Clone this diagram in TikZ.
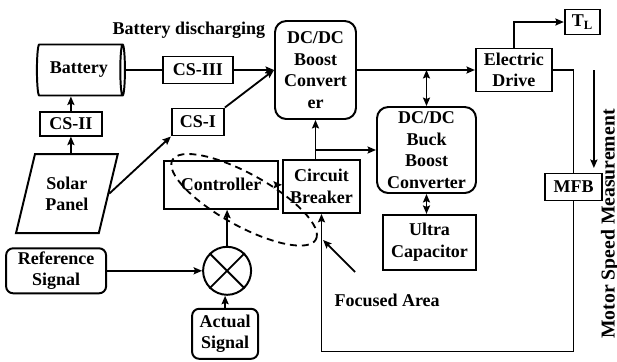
\documentclass[tikz,border=0pt]{standalone}
\usepackage{fontspec}
\setmainfont{Liberation Serif}
\usepackage{tikz}
\usetikzlibrary{arrows.meta, positioning, shapes.geometric, calc}

\begin{document}
\begin{tikzpicture}[
    node_box/.style={rectangle, draw, line width=1.4pt, align=center, inner sep=1pt, font=\fontsize{12.8}{15.3}\selectfont\bfseries},
    node_conv/.style={node_box, rounded corners=8pt},
    node_sig/.style={node_box, rounded corners=5pt},
    node_txt/.style={draw=none, align=center, inner sep=0pt, font=\fontsize{12.8}{15.3}\selectfont\bfseries},
    edge_path/.style={-{Stealth[length=6pt, width=5pt, inset=1pt]}, line width=1.3pt},
    edge_both/.style={{Stealth[length=6pt, width=5pt, inset=1pt]}-{Stealth[length=6pt, width=5pt, inset=1pt]}, line width=1.3pt},
    edge_line/.style={line width=1.3pt},
    on grid, node distance=2.0cm and 2.0cm
  ]
    \useasboundingbox (-7.8875,1.75) rectangle (7.5375,-7.275);

    \node[node_conv, minimum width=2.025cm, minimum height=2.45cm] (Boost) {DC/DC\\Boost\\Convert\\er};
    \node[node_box, minimum width=1.75cm, minimum height=0.675cm, left=2.94cm of Boost] (CS3) {CS-III};
    \node[node_box, cylinder, shape aspect=0.25, minimum height=2.2cm, minimum width=1.275cm, left=2.975cm of CS3] (Bat) {Battery};
    \node[node_box, minimum width=1.55cm, minimum height=0.6cm, below=1.34cm of Bat, xshift=-0.2cm] (CS2) {CS-II};
    \node[node_box, trapezium, trapezium left angle=76.5, trapezium right angle=103.5,
          inner xsep=7.4pt, inner ysep=16pt, below=1.75cm of CS2, xshift=-0.1cm] (Solar) {Solar\\Panel};
    \node[node_box, minimum width=1.3cm, minimum height=0.675cm, below=1.3cm of CS3] (CS1) {CS-I};

    \node[node_box, minimum width=1.925cm, minimum height=1.325cm, below=2.91cm of Boost, xshift=0.15cm] (CB) {Circuit\\Breaker};
    \node[node_box, minimum width=2.85cm, minimum height=1.2cm, left=2.51cm of CB, yshift=0.04cm] (Ctrl) {Controller};
    \node[node_conv, minimum width=2.475cm, minimum height=2.15cm, below right=2cm and 2.775cm of Boost] (Buck) {DC/DC\\Buck\\Boost\\Converter};
    \node[node_box, minimum width=2.325cm, minimum height=1.375cm, below=2.31cm of Buck, xshift=0.075cm] (Ultra) {Ultra\\Capacitor};

    \node[node_box, minimum width=1.9cm, minimum height=1.075cm, right=4.96cm of Boost] (Drive) {Electric\\Drive};
    \node[node_box, minimum width=0.875cm, minimum height=0.625cm, above right=1.2cm and 1.71cm of Drive] (TL) {T\textsubscript{L}};
    \node[node_box, minimum width=1.425cm, minimum height=0.675cm, below right=2.925cm and 1.49cm of Drive] (MFB) {MFB};

    \node[node_box, circle, minimum size=1.2cm, below=2.15cm of Ctrl, xshift=0.15cm] (Sum) {};
    \draw[edge_line] (Sum.north west) -- (Sum.south east) (Sum.north east) -- (Sum.south west);
    \node[node_sig, minimum width=2.5cm, minimum height=1.125cm, left=4.275cm of Sum] (Ref) {Reference\\Signal};
    \node[node_sig, minimum width=1.65cm, minimum height=1.25cm, below=1.575cm of Sum, xshift=-0.05cm] (Act) {Actual\\Signal};

    \node[node_txt, above=0.99cm of CS3, xshift=-0.225cm] (BatDis) {Battery discharging};
    \node[node_txt, below left=1.44cm and 1.06cm of Ultra] (Focus) {Focused Area};
    \node[node_txt, font=\fontsize{14}{16}\selectfont\bfseries, rotate=90, below right=0.925cm and 0.9125cm of MFB] (MSM) {Motor Speed Measurement};

    \node[draw, ellipse, rotate=-29, line width=1.3pt, dash pattern=on 5pt off 3.5pt,
          minimum width=4.1cm, minimum height=1.3cm, below right=0.375cm and 0.575cm of Ctrl] (FocusArea) {};

    \coordinate[above left=0.7cm and 0.8cm of Focus] (FA_tail);
    \coordinate[above left=1.5cm and 1.6cm of Focus] (FA_tip);
    \coordinate[right=1.025cm of Drive.east] (MS_top);
    \coordinate[below=2.45cm of MS_top] (MS_bot);
    \coordinate[below=3.75cm of MFB.south] (FB);

    \draw[edge_line] (Bat.east) to (CS3.west);
    \draw[edge_path] (CS3.east) to (Boost.west);
    \draw[edge_path] (CS2.north) to (CS2.north |- Bat.south);
    \draw[edge_path] (Solar.north -| CS2.south) to (CS2.south);
    \draw[edge_path] (Solar.east) to (CS1.south west);
    \draw[edge_path] (CS1.north east) to (Boost.west);

    \draw[edge_path] (Boost.east) to (Drive.west);
    \draw[edge_both] (Buck.north) to (Buck.north |- Boost.east);
    \draw[edge_both] (Buck.south) to (Buck.south |- Ultra.north);
    \draw[edge_path] (CB.north -| Boost.south) to (Boost.south);
    \draw[edge_path] (Boost.south |- Buck.west) to (Buck.west);

    \draw[edge_path] (Ctrl.east) to (Ctrl.east -| CB.west);
    \draw[edge_path] (Sum.north) to (Sum.north |- Ctrl.south);
    \draw[edge_path] (Ref.east) to (Sum.west);
    \draw[edge_path] (Act.north) to (Act.north |- Sum.south);

    \draw[edge_path] (Drive.north) |- (TL.west);
    \draw[edge_line] (Drive.east) -| (MFB.north);
    \draw[edge_path] (MFB.south) -- (FB) -| (CB.south);
    \draw[edge_path] (MS_top) to (MS_bot);
    \draw[edge_path] (FA_tail) to (FA_tip);
  \end{tikzpicture}
\end{document}
